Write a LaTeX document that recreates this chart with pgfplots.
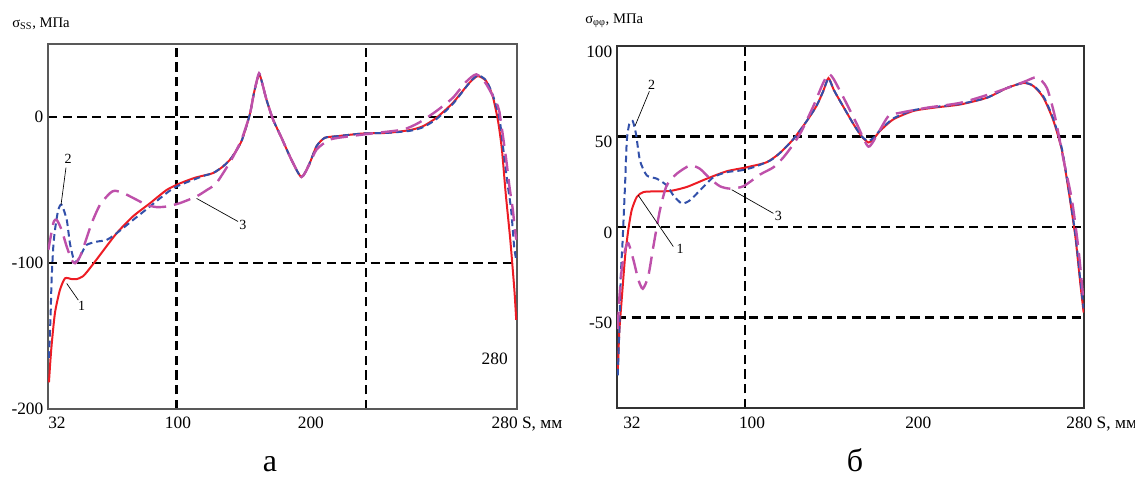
\documentclass[border=0pt]{standalone}
\usepackage{fontspec}
\setmainfont{Liberation Serif}
\usepackage{pgfplots}
\pgfplotsset{compat=1.18}

\definecolor{cred}{RGB}{237,28,36}
\definecolor{cblue}{RGB}{50,80,170}
\definecolor{cmag}{RGB}{190,80,170}

\newcommand{\tk}{\fontsize{13}{15}\selectfont}
\newcommand{\lb}{\fontsize{11}{13}\selectfont}
\newcommand{\nb}{\fontsize{10.5}{12}\selectfont}

\pgfplotsset{
  panel/.style={
    scale only axis, anchor=south west,
    xmin=32, xmax=280,
    axis line style={black!65, line width=1pt},
    major tick length=0pt,
    grid=major,
    grid style={black, line width=1.7pt, dash pattern=on 7pt off 4pt},
    tick label style={font=\tk},
    xticklabels={},
    extra tick style={grid=none},
    clip mode=individual,
  },
  s1/.style={cred, line width=1.5pt, smooth, tension=0.4, no marks},
  s2/.style={cblue, line width=1.5pt, smooth, tension=0.4, no marks, dash pattern=on 5pt off 3pt},
  s3/.style={cmag, line width=1.8pt, smooth, tension=0.4, no marks, dash pattern=on 13pt off 6pt},
}

\begin{document}
\begin{tikzpicture}
\useasboundingbox (0,0) rectangle (851.25pt,359.25pt);

% ---------- а : sigma_SS ----------
\begin{axis}[panel,
    at={(36pt,52.5pt)}, width=351.75pt, height=273.75pt,
    ymin=-200, ymax=50,
    xtick={100,200},
    ytick={-100,0}, yticklabels={-100,0},
    extra y ticks={-200}, extra y tick labels={-200},
]
\addplot[s1] coordinates {
(32.5,-181.8) (33.2,-168) (34,-155) (35.7,-134) (38.3,-118.5) (41,-110.5)
(44.5,-111) (47.2,-111) (50.6,-109) (54.2,-103.5) (59.5,-94.5) (68.3,-79.6)
(77,-68) (86,-59) (94.7,-50) (101.7,-45.5) (110,-41.5) (119.3,-38.4)
(124.6,-33.8) (129,-28) (134.3,-16.6) (138.7,1.7) (141,17) (143.6,29.2)
(145.5,22) (147.5,12) (151,-1.7) (155.5,-14.3) (160.7,-29.2) (166,-41.1)
(170.4,-31.5) (174,-20) (178.3,-14.3) (184.5,-13.2) (198.6,-11.3) (210.9,-10.9)
(223.2,-9) (230.3,-6.3) (237.3,-0.6) (246.1,9.7) (254.9,23.5) (259.3,28)
(263.7,24.6) (267.2,14) (270,-3) (272,-22) (274,-52) (276.3,-82)
(277.6,-102) (278.7,-120) (279.6,-139)
};
\addplot[s2] coordinates {
(32.5,-165) (33.4,-134.6) (33.9,-111.7) (34.8,-88.8) (35.7,-77.3) (37.4,-63.6)
(39.2,-60.1) (41.9,-70.4) (43.6,-86.5) (45.7,-97.9) (47.5,-99) (49.8,-93.3)
(52.4,-87.6) (57.7,-85.4) (63,-84.2) (68.3,-79.6) (77.1,-70.4) (85.9,-61.3)
(94.7,-52.1) (100,-47.6) (108.8,-43) (115,-40) (119.3,-38.4)
(124.6,-33.8) (129,-28) (134.3,-16.6) (138.7,1.7) (141,17) (143.6,29.2)
(145.5,22) (147.5,12) (151,-1.7) (155.5,-14.3) (160.7,-29.2) (166,-41.1)
(170.4,-31.5) (174,-20) (178.3,-14.3) (184.5,-13.2) (198.6,-11.3) (210.9,-10.9)
(223.2,-9.5) (230.3,-7) (237.3,-1.5) (246.1,9) (254.9,23.5) (259.3,28.5)
(263.7,25) (267.2,15) (270.8,-1.7) (273.4,-29.2) (275.2,-47.6) (276.9,-63.6)
(278.5,-88.8) (279.6,-98)
};
\addplot[s3] coordinates {
(32.2,-91) (34.8,-72.7) (36.6,-70.4) (39.2,-77.3) (41.9,-88.8) (44.5,-97.9)
(46.3,-100.2) (48.9,-95.7) (51.5,-86.5) (55.1,-72.7) (59.5,-60.1) (64.8,-52.1)
(67.4,-50.5) (71.8,-52.1) (77.1,-55.5) (84.1,-60.1) (89.4,-61.7) (94.7,-61.3)
(101.7,-59) (110.5,-54.4) (116,-50) (121.1,-45.2) (129,-29.2) (134.3,-15.5)
(138.7,1.7) (141,17) (143.6,30) (145.5,22) (147.5,12) (151,-1.7)
(155.5,-14.3) (160.7,-29.2) (166,-41.1) (170.4,-32) (174,-22.3) (181,-15.5)
(191.5,-13.2) (205,-11) (219.7,-8.6) (228,-4) (237.3,4) (246.1,13.2)
(253,24) (258.5,29.2) (263.5,23) (269.9,7.4) (271.3,-1.7) (274.3,-29.2)
(276,-47.6) (277.8,-63.6) (278.7,-75) (279.6,-84)
};
% leaders
\draw[black, line width=0.5pt] (axis cs:41.5,-34.7) -- (axis cs:38.9,-60.1);
\node[font=\nb] at (axis cs:42.6,-28.5) {2};
\draw[black, line width=0.5pt] (axis cs:41.9,-114) -- (axis cs:48,-125.4);
\node[font=\nb] at (axis cs:49.8,-129.5) {1};
\draw[black, line width=0.5pt] (axis cs:110.6,-55.8) -- (axis cs:132.5,-71.6);
\node[font=\nb] at (axis cs:135,-74) {3};
\node[font=\tk] at (axis cs:268.2,-165.3) {280};
% x tick labels
\node[font=\tk, anchor=base west, inner sep=0pt] at (axis cs:32,-200) [yshift=-14.25pt] {32};
\node[font=\tk, anchor=base] at (axis cs:100.7,-200) [yshift=-14.25pt] {100};
\node[font=\tk, anchor=base] at (axis cs:171,-200) [yshift=-14.25pt] {200};
\node[font=\tk, anchor=base west, inner sep=0pt] at (axis cs:266.5,-200) [yshift=-14.25pt] {280 S, мм};
\end{axis}

% ---------- б : sigma_phiphi ----------
\begin{axis}[panel,
    at={(462.75pt,53.25pt)}, width=350.25pt, height=271.5pt,
    ymin=-100, ymax=100,
    axis line style={black!80, line width=1pt},
    xtick={100},
    ytick={-50,0,50}, yticklabels={-50,0,50},
    extra y ticks={100}, extra y tick labels={100},
    yticklabel style={yshift=-4pt},
]
\addplot[s1] coordinates {
(32.4,-80.1) (33.2,-58.2) (34.5,-40) (36.3,-16.3) (38,-1.6) (39.8,9.3)
(42.5,16.6) (46,19.3) (53.1,19.7) (60.2,19.9) (69,22.1) (79.7,26.7)
(90.3,30.8) (100.9,33) (111.5,35.8) (118.6,41) (125.7,48.6) (132.8,58.6)
(138,67) (141.5,75) (144.3,82.3) (147,76) (150.5,69.5) (157.6,56.8)
(162,50) (165.5,46.7) (168.5,49) (171.7,53.1) (178.8,59.5) (189.4,64.1)
(200.1,65.9) (214.3,67.7) (228.4,71.4) (239.1,76.8) (247.9,79.6) (253.2,77.8)
(258.5,71.4) (263.8,58.6) (268.3,42.2) (271.8,20.3) (275.4,-5.3) (278,-30.8)
(279.8,-47.3)
};
\addplot[s2] coordinates {
(32.4,-82) (33.2,-58) (34,-27.2) (35,-7.1) (36.3,23.9) (37.2,47.6)
(38.5,56.8) (40.3,58.6) (42.1,51.3) (44.2,36.7) (47.8,28.5) (53.1,26.7)
(58.4,23) (61.9,17.5) (66.4,13) (70.8,14.8) (76.1,20.3) (83.2,27.5)
(90.3,30.3) (97.4,31.2) (104.4,33) (113.3,36.7) (118.6,41) (125.7,48.6)
(132.8,58.6) (138,67) (141.5,75) (144.3,82) (147,76) (150.5,69.5)
(157.6,56.8) (162,50) (165.5,47.5) (168.5,49.5) (171.7,53.5) (178.8,60)
(189.4,64.5) (200.1,66.2) (214.3,68) (228.4,71.4) (239.1,76.8) (247.9,79.6)
(253.2,78) (258.5,72) (263.8,59.5) (268.3,43) (271.8,21) (275.4,-4)
(278,-29) (279.8,-45)
};
\addplot[s3] coordinates {
(32.4,-56.4) (33.2,-40) (34.5,-23.5) (36.3,-12.6) (38,-8.9) (40.7,-18.1)
(43.3,-29) (45.7,-34.1) (48.6,-27.2) (51.3,-10.8) (54.8,9.3) (58.4,23)
(63.7,29.4) (70.8,34) (76.1,32.1) (81.4,26.7) (86.7,22.5) (92,21.2)
(99.1,22.5) (108,29) (115.1,33) (120.4,38.5) (125.7,45.8) (130,53)
(136.3,66.8) (144.3,84.5) (151.4,73.2) (159.4,56.8) (165.5,44.4) (170.8,52.2)
(176.2,61.3) (182.4,63.1) (196.6,65.9) (214.3,68.6) (232,74.1) (247.9,80.1)
(255,82.7) (260.3,76.8) (264.7,60.4) (269.2,36.7) (273.6,14.8) (277.1,-12.6)
(279.8,-41.8)
};
% leaders
\draw[black, line width=0.5pt] (axis cs:49.2,75) -- (axis cs:41.6,55.9);
\node[font=\nb] at (axis cs:50.4,78.5) {2};
\draw[black, line width=0.5pt] (axis cs:43.3,17.5) -- (axis cs:61.9,-10.8);
\node[font=\nb] at (axis cs:65.5,-12) {1};
\draw[black, line width=0.5pt] (axis cs:92.9,20.6) -- (axis cs:115.1,7.5);
\node[font=\nb] at (axis cs:117.7,6.2) {3};
% x tick labels
\node[font=\tk, anchor=base west, inner sep=0pt] at (axis cs:35.2,-100) [yshift=-15pt] {32};
\node[font=\tk, anchor=base] at (axis cs:103.7,-100) [yshift=-15pt] {100};
\node[font=\tk, anchor=base] at (axis cs:192,-100) [yshift=-15pt] {200};
\node[font=\tk, anchor=base west, inner sep=0pt] at (axis cs:270.5,-100) [yshift=-15pt] {280 S, мм};
\end{axis}

% titles and panel letters
\node[font=\lb, anchor=base west, inner sep=0pt] at (9pt,338.5pt) {σ\textsubscript{SS}, МПа};
\node[font=\lb, anchor=base west, inner sep=0pt] at (438.75pt,341.5pt) {σ\textsubscript{φφ}, МПа};
\node[font=\fontsize{24}{26}\selectfont, anchor=base] at (202.5pt,6pt) {а};
\node[font=\fontsize{24}{26}\selectfont, anchor=base] at (641.25pt,6pt) {б};
\end{tikzpicture}
\end{document}
